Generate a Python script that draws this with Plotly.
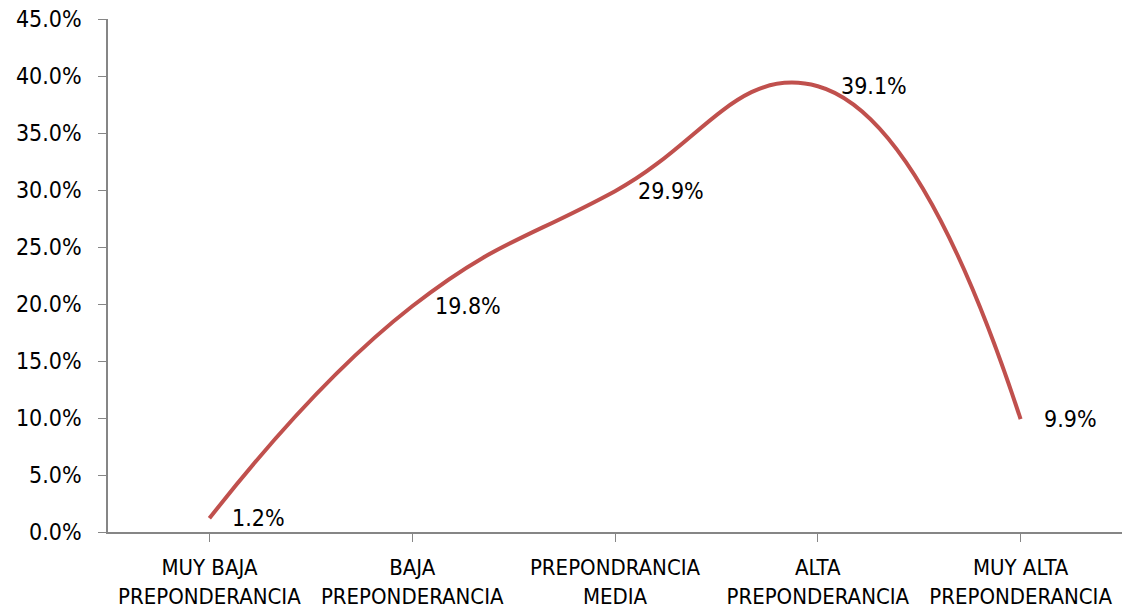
import plotly.graph_objects as go

categories = [
    "MUY BAJA<br>PREPONDERANCIA",
    "BAJA<br>PREPONDERANCIA",
    "PREPONDRANCIA<br>MEDIA",
    "ALTA<br>PREPONDERANCIA",
    "MUY ALTA<br>PREPONDERANCIA",
]
percentages = [1.2, 19.8, 29.9, 39.1, 9.9]
y_ticks = [0, 5, 10, 15, 20, 25, 30, 35, 40, 45]

FONT = "Liberation Sans Narrow, DejaVu Sans Condensed, Open Sans"
FONT_SIZE = 23
CAT_FONT_SIZE = 22
AXIS_GREY = "#868686"

fig = go.Figure()
fig.add_trace(go.Scatter(
    x=list(range(len(categories))),
    y=percentages,
    mode="lines",
    line=dict(color="#C0504D", width=4, shape="spline", smoothing=1.3),
    hoverinfo="skip",
    showlegend=False,
))

# value labels placed to the right of each point
for i, v in enumerate(percentages):
    fig.add_annotation(
        x=i, y=v, text=f"{v:.1f}%", showarrow=False,
        xanchor="left", yanchor="middle", xshift=21,
        font=dict(family=FONT, size=FONT_SIZE, color="#000000"),
    )

fig.update_layout(
    width=1124, height=611,
    margin=dict(l=108, r=2, t=19, b=79),
    paper_bgcolor="white", plot_bgcolor="white",
    font=dict(family=FONT, size=FONT_SIZE, color="#000000"),
)
fig.update_xaxes(
    tickmode="array",
    tickvals=list(range(len(categories))),
    ticktext=categories,
    range=[-0.5, len(categories) - 0.5],
    showline=True, linecolor=AXIS_GREY, linewidth=1.5,
    ticks="outside", tickson="boundaries", ticklen=8, tickcolor=AXIS_GREY,
    ticklabelstandoff=7,
    showgrid=False, zeroline=False,
    tickfont=dict(family=FONT, size=CAT_FONT_SIZE),
)
fig.update_yaxes(
    tickmode="array",
    tickvals=y_ticks,
    ticktext=[f"{t:.1f}%" for t in y_ticks],
    range=[0, 45],
    showline=True, linecolor=AXIS_GREY, linewidth=1.5,
    ticks="outside", ticklen=8, tickcolor=AXIS_GREY,
    ticklabelstandoff=12,
    showgrid=False, zeroline=False,
    tickfont=dict(family=FONT, size=FONT_SIZE),
)

fig.write_html("out.html")
